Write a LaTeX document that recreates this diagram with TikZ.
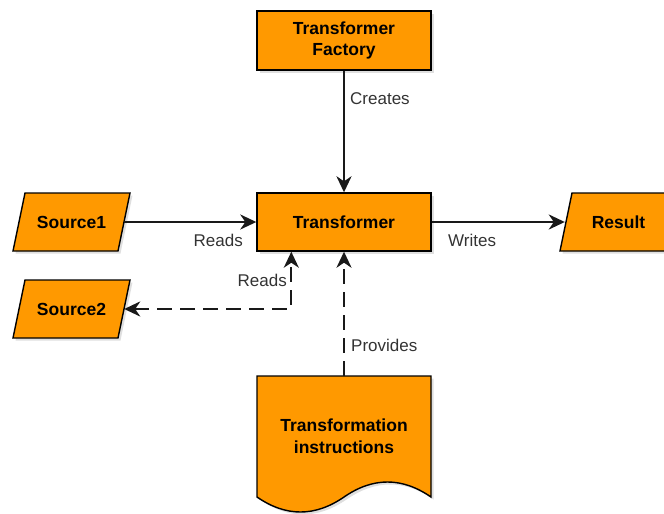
\documentclass[tikz,border=0pt]{standalone}
\usepackage{fontspec}
\setmainfont{Liberation Sans}
\usetikzlibrary{arrows.meta,shadows,calc}
\definecolor{boxfill}{HTML}{FF9900}
\definecolor{lbl}{HTML}{333333}
\tikzset{
  shp/.style={fill=boxfill, draw=black, line width=1.4pt, line join=miter,
    drop shadow={opacity=0.25, shadow xshift=2.5pt, shadow yshift=-2.5pt, fill=gray}},
  boxtxt/.style={font=\fontsize{17.5}{21.5}\selectfont\bfseries, align=center, inner sep=0pt},
  arr/.tip={Stealth[length=16pt,width=15pt,inset=5pt]},
  conn/.style={line width=2.2pt, draw=black!90, -arr},
  dconn/.style={conn, dash pattern=on 15pt off 8pt},
  lab/.style={font=\fontsize{17}{20}\selectfont, text=lbl, inner sep=0pt},
}
\begin{document}
\begin{tikzpicture}[x=1pt,y=-1pt]
\useasboundingbox (0,0) rectangle (664,514);
% rectangles
\node[shp, boxtxt, minimum width=174pt, minimum height=59pt] (fac) at (344,40.5) {Transformer\\Factory};
\node[shp, boxtxt, minimum width=174pt, minimum height=58pt] (tr) at (344,222) {Transformer};
% parallelograms
\path[shp] (25,193) -- (130,193) -- (118,251) -- (13,251) -- cycle;
\path[shp] (25,280) -- (130,280) -- (118,338) -- (13,338) -- cycle;
\path[shp] (572,193) -- (677,193) -- (665,251) -- (560,251) -- cycle;
% document
\path[shp] (257,376) -- (431,376) -- (431,497)
  .. controls (402,477) and (373,477) .. (344,497)
  .. controls (315,517) and (286,517) .. (257,497) -- cycle;
% text nodes
\node[boxtxt, minimum width=105pt, minimum height=58pt] (s1) at (71.5,222) {Source1};
\node[boxtxt, minimum width=105pt, minimum height=58pt] (s2) at (71.5,309) {Source2};
\node[boxtxt, minimum width=107pt, minimum height=58pt] (res) at (618.5,222) {Result};
\node[boxtxt, minimum width=174pt, minimum height=120pt] (ins) at (344,436) {Transformation\\instructions};
% connectors
\draw[conn] (fac) -- (tr);
\draw[conn] (s1) -- (tr);
\draw[conn] (tr) -- (res);
\draw[dconn, arr-arr] (s2.east) -| ($(tr.south west)+(35,0)$);
\draw[dconn] (ins.north) -- (tr.south);
% labels
\node[lab, anchor=west] (lcreates) at (350,99) {Creates};
\node[lab, anchor=east] (lreads1) at (243,240) {Reads};
\node[lab, anchor=west] (lwrites) at (448,240) {Writes};
\node[lab, anchor=east] (lreads2) at (287,280) {Reads};
\node[lab, anchor=west] (lprov) at (351,345) {Provides};
\end{tikzpicture}
\end{document}
